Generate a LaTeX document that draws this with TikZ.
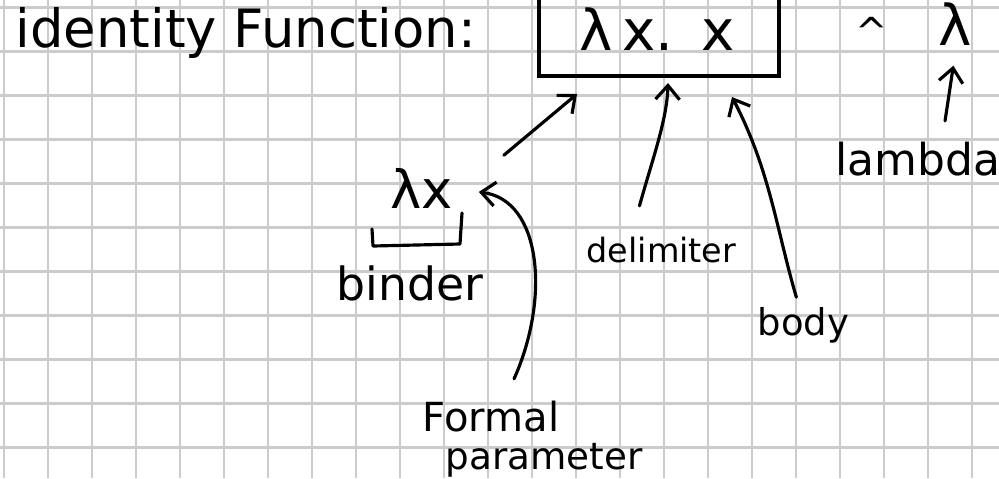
\documentclass[tikz,border=0pt]{standalone}
\usepackage{fontspec}
\setmainfont{DejaVu Sans}
\usetikzlibrary{arrows.meta,calc}

\begin{document}
\begin{tikzpicture}[x=0.01cm,y=-0.01cm,
  gridline/.style={gray!40,line width=0.6pt},
  ink/.style={line width=0.9pt,line cap=round,line join=round},
  hand/.style={inner sep=0pt,anchor=base west},
  >={Straight Barb[length=1.4mm,width=2.4mm]}]
\useasboundingbox (0,0) rectangle (999,478);
\clip (0,0) rectangle (999,478);
% squared paper
\foreach \gx in {0,...,22} \draw[gridline] (3.7+44*\gx,0) -- (3.7+44*\gx,478);
\foreach \gy in {0,...,10} \draw[gridline] (0,7.5+44*\gy) -- (999,7.5+44*\gy);

\node[hand,font=\fontsize{15}{18}\selectfont] (title) at (15,47) {identity Function:};
\node[draw,line width=1.1pt,anchor=south west,minimum width=2.4cm,minimum height=1.3cm,inner sep=0pt] (exprbox) at (537,78) {};
\node[hand,font=\fontsize{16}{19}\selectfont] (expr) at (579,50) {λ\,x.\enspace x};
\node[anchor=base,inner sep=0pt,font=\fontsize{11}{13}\selectfont] (caret) at (872,45) {\textasciicircum};
\node[hand,font=\fontsize{16}{19}\selectfont] (lamsym) at (938,45) {λ};
\node[hand,font=\fontsize{12.5}{15}\selectfont] (lamword) at (835,175) {lambda};

\node[hand,font=\fontsize{15}{18}\selectfont] (lamx) at (390,208) {λx};
\draw[ink] (372,229) -- (373,246) -- (460,244) -- (462,213);
\node[hand,font=\fontsize{13}{15}\selectfont] (binder) at (336,300) {binder};
\node[hand,font=\fontsize{9.5}{11}\selectfont] (delim) at (586,262) {delimiter};
\node[hand,font=\fontsize{10.5}{12}\selectfont] (body) at (757,335) {body};
\node[hand,font=\fontsize{11.4}{13}\selectfont] (formal) at (422,431) {Formal};
\node[hand,font=\fontsize{10.6}{12}\selectfont] (param) at (445,469) {parameter};

% pointers into the box
\draw[ink,->] ($(lamx.north east)+(50,-12)$) -- ($(exprbox.south west)+(40,16)$);
\draw[ink,->] ($(delim.north)+(-22,-30)$) .. controls +(13,-47) and +(-1,37) .. ($(exprbox.south west)+(131,5)$);
\draw[ink,->] ($(body.north)+(-7,-9)$) .. controls +(-20,-68) and +(38,73) .. ($(exprbox.south west)+(195,19)$);
\draw[ink,->] ($(formal.north)+(23,-21)$) .. controls +(36,-80) and +(63,8) .. ($(lamx.east)+(25,4)$);
\draw[ink,->] ($(lamword.north)+(27,-20)$) -- ($(lamsym.south)+(-2,20)$);
\end{tikzpicture}
\end{document}
